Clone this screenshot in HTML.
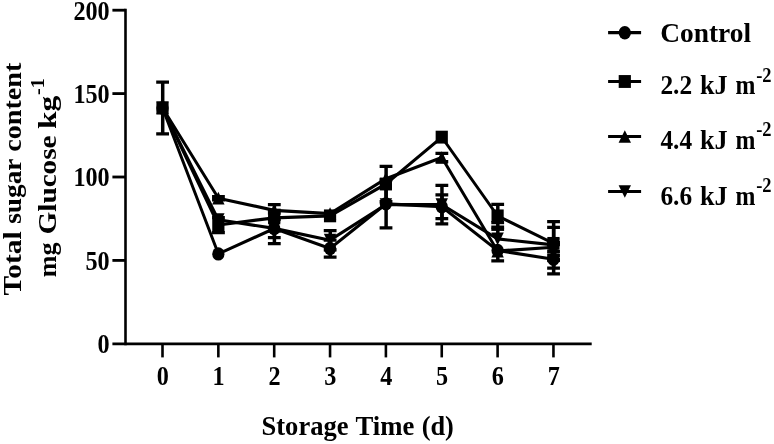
<!DOCTYPE html>
<html><head><meta charset="utf-8"><title>Total sugar content</title>
<style>
html,body{margin:0;padding:0;background:#fff}
svg{display:block}
text{font-family:"Liberation Serif",serif;font-weight:bold;fill:#000}
</style></head>
<body>
<svg width="774" height="444" viewBox="0 0 774 444">
<rect width="774" height="444" fill="#fff"/>
<g transform="scale(1,1.09)">
<g>
<path d="M125.5,8.06V316.71" fill="none" stroke="#000" stroke-width="2.6"/>
<path d="M112.4,315.41H591.7" fill="none" stroke="#000" stroke-width="2.6"/>
<path d="M112.4,238.90H125.5" fill="none" stroke="#000" stroke-width="2.6"/>
<path d="M112.4,162.39H125.5" fill="none" stroke="#000" stroke-width="2.6"/>
<path d="M112.4,85.87H125.5" fill="none" stroke="#000" stroke-width="2.6"/>
<path d="M112.4,9.36H125.5" fill="none" stroke="#000" stroke-width="2.6"/>
<path d="M162.50,315.41V327.89" fill="none" stroke="#000" stroke-width="2.6"/>
<path d="M218.35,315.41V327.89" fill="none" stroke="#000" stroke-width="2.6"/>
<path d="M274.20,315.41V327.89" fill="none" stroke="#000" stroke-width="2.6"/>
<path d="M330.05,315.41V327.89" fill="none" stroke="#000" stroke-width="2.6"/>
<path d="M385.90,315.41V327.89" fill="none" stroke="#000" stroke-width="2.6"/>
<path d="M441.75,315.41V327.89" fill="none" stroke="#000" stroke-width="2.6"/>
<path d="M497.60,315.41V327.89" fill="none" stroke="#000" stroke-width="2.6"/>
<path d="M553.45,315.41V327.89" fill="none" stroke="#000" stroke-width="2.6"/>
</g>
<g>
<text x="109.7" y="324.04" text-anchor="end" font-size="24.2">0</text>
<text x="109.7" y="247.52" text-anchor="end" font-size="24.2">50</text>
<text x="109.7" y="171.01" text-anchor="end" font-size="24.2">100</text>
<text x="109.7" y="94.50" text-anchor="end" font-size="24.2">150</text>
<text x="109.7" y="17.98" text-anchor="end" font-size="24.2">200</text>
<text x="162.80" y="352.84" text-anchor="middle" font-size="24.2">0</text>
<text x="218.65" y="352.84" text-anchor="middle" font-size="24.2">1</text>
<text x="274.50" y="352.84" text-anchor="middle" font-size="24.2">2</text>
<text x="330.35" y="352.84" text-anchor="middle" font-size="24.2">3</text>
<text x="386.20" y="352.84" text-anchor="middle" font-size="24.2">4</text>
<text x="442.05" y="352.84" text-anchor="middle" font-size="24.2">5</text>
<text x="497.90" y="352.84" text-anchor="middle" font-size="24.2">6</text>
<text x="553.75" y="352.84" text-anchor="middle" font-size="24.2">7</text>
</g>
<g>
<path d="M162.70,75.31V122.75" fill="none" stroke="#000" stroke-width="3.5"/>
<path d="M156.20,75.31h12.8M156.20,122.75h12.8" fill="none" stroke="#000" stroke-width="3.0"/>
<path d="M274.40,201.41V217.93" fill="none" stroke="#000" stroke-width="3.5"/>
<path d="M267.90,201.41h12.8M267.90,217.93h12.8" fill="none" stroke="#000" stroke-width="3.0"/>
<path d="M330.25,220.23V235.84" fill="none" stroke="#000" stroke-width="3.5"/>
<path d="M323.75,220.23h12.8M323.75,235.84h12.8" fill="none" stroke="#000" stroke-width="3.0"/>
<path d="M386.10,164.99V209.06" fill="none" stroke="#000" stroke-width="3.5"/>
<path d="M379.60,164.99h12.8M379.60,209.06h12.8" fill="none" stroke="#000" stroke-width="3.0"/>
<path d="M441.95,178.76V200.49" fill="none" stroke="#000" stroke-width="3.5"/>
<path d="M435.45,178.76h12.8M435.45,200.49h12.8" fill="none" stroke="#000" stroke-width="3.0"/>
<path d="M497.80,229.87V239.32" fill="none" stroke="#000" stroke-width="3.5"/>
<path d="M491.30,239.32h12.8" fill="none" stroke="#000" stroke-width="3.0"/>
<path d="M553.65,224.34V251.31" fill="none" stroke="#000" stroke-width="3.5"/>
<path d="M547.15,224.34h12.8M547.15,251.31h12.8" fill="none" stroke="#000" stroke-width="3.0"/>
<polyline points="162.50,99.03 218.35,232.93 274.20,209.67 330.05,228.03 385.90,187.02 441.75,189.62 497.60,229.87 553.45,237.83" fill="none" stroke="#000" stroke-width="2.9" stroke-linejoin="round"/>
<circle cx="162.50" cy="99.03" r="6.15"/>
<circle cx="218.35" cy="232.93" r="6.15"/>
<circle cx="274.20" cy="209.67" r="6.15"/>
<circle cx="330.05" cy="228.03" r="6.15"/>
<circle cx="385.90" cy="187.02" r="6.15"/>
<circle cx="441.75" cy="189.62" r="6.15"/>
<circle cx="497.60" cy="229.87" r="6.15"/>
<circle cx="553.45" cy="237.83" r="6.15"/>
<path d="M218.55,199.57V213.34" fill="none" stroke="#000" stroke-width="3.5"/>
<path d="M212.05,199.57h12.8M212.05,213.34h12.8" fill="none" stroke="#000" stroke-width="3.0"/>
<path d="M274.40,187.63V212.12" fill="none" stroke="#000" stroke-width="3.5"/>
<path d="M267.90,187.63h12.8M267.90,212.12h12.8" fill="none" stroke="#000" stroke-width="3.0"/>
<path d="M386.10,152.74V184.88" fill="none" stroke="#000" stroke-width="3.5"/>
<path d="M379.60,152.74h12.8M379.60,184.88h12.8" fill="none" stroke="#000" stroke-width="3.0"/>
<path d="M497.80,187.58V208.32" fill="none" stroke="#000" stroke-width="3.5"/>
<path d="M491.30,187.58h12.8M491.30,208.32h12.8" fill="none" stroke="#000" stroke-width="3.0"/>
<path d="M553.65,208.60V237.98" fill="none" stroke="#000" stroke-width="3.5"/>
<path d="M547.15,208.60h12.8M547.15,237.98h12.8" fill="none" stroke="#000" stroke-width="3.0"/>
<polyline points="162.50,99.03 218.35,206.46 274.20,199.88 330.05,198.04 385.90,168.81 441.75,125.81 497.60,198.04 553.45,223.29" fill="none" stroke="#000" stroke-width="2.9" stroke-linejoin="round"/>
<rect x="156.40" y="93.13" width="12.2" height="11.8"/>
<rect x="212.25" y="200.56" width="12.2" height="11.8"/>
<rect x="268.10" y="193.98" width="12.2" height="11.8"/>
<rect x="323.95" y="192.14" width="12.2" height="11.8"/>
<rect x="379.80" y="162.91" width="12.2" height="11.8"/>
<rect x="435.65" y="119.91" width="12.2" height="11.8"/>
<rect x="491.50" y="192.14" width="12.2" height="11.8"/>
<rect x="547.35" y="217.39" width="12.2" height="11.8"/>
<path d="M218.55,180.29V183.35" fill="none" stroke="#000" stroke-width="3.5"/>
<path d="M212.05,180.29h12.8M212.05,183.35h12.8" fill="none" stroke="#000" stroke-width="3.0"/>
<path d="M441.95,140.66V148.31" fill="none" stroke="#000" stroke-width="3.5"/>
<path d="M435.45,140.66h12.8M435.45,148.31h12.8" fill="none" stroke="#000" stroke-width="3.0"/>
<path d="M553.65,222.68V230.94" fill="none" stroke="#000" stroke-width="3.5"/>
<path d="M547.15,222.68h12.8M547.15,230.94h12.8" fill="none" stroke="#000" stroke-width="3.0"/>
<polyline points="162.50,99.03 218.35,181.82 274.20,192.99 330.05,196.05 385.90,163.92 441.75,144.48 497.60,230.33 553.45,226.81" fill="none" stroke="#000" stroke-width="2.9" stroke-linejoin="round"/>
<polygon points="162.50,93.21 168.70,104.86 156.30,104.86"/>
<polygon points="218.35,175.99 224.55,187.65 212.15,187.65"/>
<polygon points="274.20,187.17 280.40,198.82 268.00,198.82"/>
<polygon points="330.05,190.23 336.25,201.88 323.85,201.88"/>
<polygon points="385.90,158.09 392.10,169.74 379.70,169.74"/>
<polygon points="441.75,138.66 447.95,150.31 435.55,150.31"/>
<polygon points="497.60,224.50 503.80,236.16 491.40,236.16"/>
<polygon points="553.45,220.98 559.65,232.64 547.25,232.64"/>
<path d="M274.40,195.59V223.44" fill="none" stroke="#000" stroke-width="3.5"/>
<path d="M267.90,195.59h12.8M267.90,223.44h12.8" fill="none" stroke="#000" stroke-width="3.0"/>
<path d="M330.25,211.58V229.18" fill="none" stroke="#000" stroke-width="3.5"/>
<path d="M323.75,211.58h12.8M323.75,229.18h12.8" fill="none" stroke="#000" stroke-width="3.0"/>
<path d="M441.95,170.11V205.31" fill="none" stroke="#000" stroke-width="3.5"/>
<path d="M435.45,170.11h12.8M435.45,205.31h12.8" fill="none" stroke="#000" stroke-width="3.0"/>
<path d="M497.80,210.35V219.16" fill="none" stroke="#000" stroke-width="3.5"/>
<path d="M491.30,210.35h12.8" fill="none" stroke="#000" stroke-width="3.0"/>
<path d="M553.65,203.24V246.09" fill="none" stroke="#000" stroke-width="3.5"/>
<path d="M547.15,203.24h12.8M547.15,246.09h12.8" fill="none" stroke="#000" stroke-width="3.0"/>
<polyline points="162.50,99.03 218.35,201.56 274.20,209.52 330.05,220.38 385.90,187.63 441.75,187.71 497.60,219.16 553.45,224.67" fill="none" stroke="#000" stroke-width="2.9" stroke-linejoin="round"/>
<polygon points="162.50,104.86 168.70,93.21 156.30,93.21"/>
<polygon points="218.35,207.39 224.55,195.73 212.15,195.73"/>
<polygon points="274.20,215.34 280.40,203.69 268.00,203.69"/>
<polygon points="330.05,226.21 336.25,214.56 323.85,214.56"/>
<polygon points="385.90,193.46 392.10,181.81 379.70,181.81"/>
<polygon points="441.75,193.54 447.95,181.89 435.55,181.89"/>
<polygon points="497.60,224.98 503.80,213.33 491.40,213.33"/>
<polygon points="553.45,230.49 559.65,218.84 547.25,218.84"/>
<path d="M267.90,192.94h12.8" fill="none" stroke="#000" stroke-width="3.0"/>
<path d="M491.30,204.22h12.8" fill="none" stroke="#000" stroke-width="3.0"/>
<path d="M547.15,234.40h12.8" fill="none" stroke="#000" stroke-width="3.0"/>
<path d="M547.15,238.99h12.8" fill="none" stroke="#000" stroke-width="3.0"/>
</g>
<g>
<path d="M608.1,30.00H641.1" fill="none" stroke="#000" stroke-width="2.9"/>
<circle cx="624.80" cy="30.00" r="6.15"/>
<text x="660.20" y="38.53" font-size="26" textLength="90.80" lengthAdjust="spacingAndGlyphs">Control</text>
<path d="M608.1,74.77H641.1" fill="none" stroke="#000" stroke-width="2.9"/>
<rect x="618.70" y="68.87" width="12.2" height="11.8"/>
<text x="660.40" y="86.70" font-size="26" textLength="31.70" lengthAdjust="spacingAndGlyphs">2.2</text>
<text x="699.90" y="86.70" font-size="26" textLength="27.60" lengthAdjust="spacingAndGlyphs">kJ</text>
<text x="735.40" y="86.70" font-size="26" textLength="19.90" lengthAdjust="spacingAndGlyphs">m</text>
<text x="756.2" y="75.10" font-size="18.5">-2</text>
<path d="M608.1,125.23H641.1" fill="none" stroke="#000" stroke-width="2.9"/>
<polygon points="624.80,119.40 631.00,131.06 618.60,131.06"/>
<text x="660.40" y="136.61" font-size="26" textLength="31.70" lengthAdjust="spacingAndGlyphs">4.4</text>
<text x="699.90" y="136.61" font-size="26" textLength="27.60" lengthAdjust="spacingAndGlyphs">kJ</text>
<text x="735.40" y="136.61" font-size="26" textLength="19.90" lengthAdjust="spacingAndGlyphs">m</text>
<text x="756.2" y="125.01" font-size="18.5">-2</text>
<path d="M608.1,175.69H641.1" fill="none" stroke="#000" stroke-width="2.9"/>
<polygon points="624.80,181.51 631.00,169.86 618.60,169.86"/>
<text x="660.40" y="187.71" font-size="26" textLength="31.70" lengthAdjust="spacingAndGlyphs">6.6</text>
<text x="699.90" y="187.71" font-size="26" textLength="27.60" lengthAdjust="spacingAndGlyphs">kJ</text>
<text x="735.40" y="187.71" font-size="26" textLength="19.90" lengthAdjust="spacingAndGlyphs">m</text>
<text x="756.2" y="176.11" font-size="18.5">-2</text>
</g>
<g>
<text x="261.50" y="399.36" font-size="26" textLength="87.00" lengthAdjust="spacingAndGlyphs">Storage</text>
<text x="355.50" y="399.36" font-size="26" textLength="58.90" lengthAdjust="spacingAndGlyphs">Time</text>
<text x="421.70" y="399.36" font-size="26" textLength="32.20" lengthAdjust="spacingAndGlyphs">(d)</text>
<text transform="translate(20.6,271.19) rotate(-90)" font-size="26" textLength="58.99" lengthAdjust="spacingAndGlyphs">Total</text>
<text transform="translate(20.6,205.32) rotate(-90)" font-size="26" textLength="59.82" lengthAdjust="spacingAndGlyphs">sugar</text>
<text transform="translate(20.6,139.27) rotate(-90)" font-size="26" textLength="81.74" lengthAdjust="spacingAndGlyphs">content</text>
<text transform="translate(56,254.31) rotate(-90)" font-size="26" textLength="31.93" lengthAdjust="spacingAndGlyphs">mg</text>
<text transform="translate(56,215.05) rotate(-90)" font-size="26" textLength="90.73" lengthAdjust="spacingAndGlyphs">Glucose</text>
<text transform="translate(56,118.35) rotate(-90)" font-size="26" textLength="30.46" lengthAdjust="spacingAndGlyphs">kg</text>
<text transform="translate(44.4,87.16) rotate(-90)" font-size="18.5">-1</text>
</g>
</g>
</svg>
</body></html>
